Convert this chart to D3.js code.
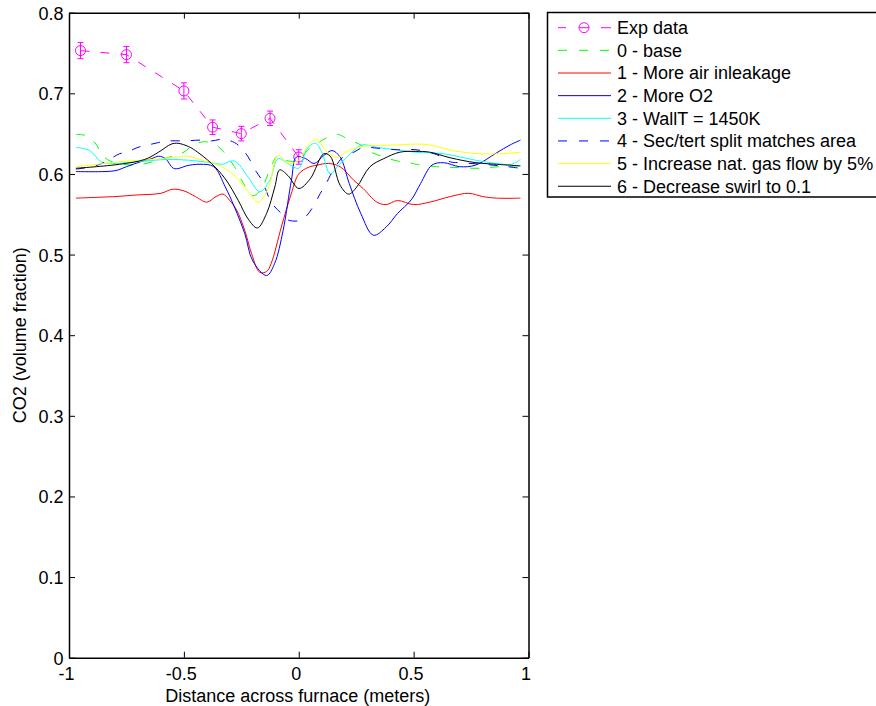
<!DOCTYPE html>
<html>
<head>
<meta charset="utf-8">
<script src="https://cdn.jsdelivr.net/npm/d3@7"></script>
<style>
  body { margin: 0; background: #fff; }
  svg { display: block; font-family: "Liberation Sans", Arial, sans-serif; }
</style>
</head>
<body>
<svg id="chart" width="876" height="706"></svg>
<script>
// experimental points
const expX = [-0.95, -0.75, -0.5, -0.375, -0.25, -0.125, 0];
const expY = [0.753, 0.748, 0.703, 0.658, 0.650, 0.669, 0.621];
const expErr = [0.010, 0.010, 0.010, 0.009, 0.009, 0.009, 0.009];

// simulation profiles [x, CO2]
const base = [[-0.97,0.649],[-0.92,0.647],[-0.88,0.636],[-0.86,0.625],[-0.82,0.616],[-0.71,0.611],[-0.625,0.616],[-0.54,0.623],[-0.5,0.627],[-0.46,0.636],[-0.41,0.640],[-0.36,0.636],[-0.32,0.625],[-0.28,0.609],[-0.24,0.588],[-0.2,0.573],[-0.165,0.580],[-0.126,0.605],[-0.09,0.623],[-0.06,0.617],[0.0,0.617],[0.04,0.630],[0.08,0.638],[0.13,0.646],[0.17,0.649],[0.22,0.642],[0.27,0.636],[0.30,0.629],[0.34,0.624],[0.38,0.620],[0.43,0.616],[0.48,0.614],[0.51,0.612],[0.6,0.609],[0.68,0.608],[0.78,0.607],[0.87,0.609],[0.965,0.610]];
const inleak = [[-0.97,0.570],[-0.8,0.572],[-0.7,0.574],[-0.6,0.576],[-0.55,0.581],[-0.5,0.579],[-0.45,0.572],[-0.4,0.565],[-0.36,0.572],[-0.33,0.575],[-0.3,0.567],[-0.27,0.555],[-0.235,0.530],[-0.205,0.501],[-0.17,0.478],[-0.14,0.479],[-0.12,0.489],[-0.076,0.534],[-0.032,0.576],[0.0,0.600],[0.04,0.608],[0.08,0.611],[0.13,0.613],[0.18,0.609],[0.24,0.592],[0.28,0.582],[0.34,0.565],[0.38,0.562],[0.43,0.567],[0.5,0.562],[0.57,0.565],[0.66,0.572],[0.74,0.576],[0.8,0.572],[0.86,0.570],[0.965,0.570]];
const moreO2 = [[-0.97,0.603],[-0.8,0.604],[-0.75,0.609],[-0.69,0.615],[-0.64,0.619],[-0.61,0.622],[-0.58,0.619],[-0.546,0.607],[-0.52,0.607],[-0.49,0.610],[-0.43,0.612],[-0.37,0.609],[-0.32,0.584],[-0.28,0.559],[-0.235,0.526],[-0.2,0.492],[-0.14,0.474],[-0.105,0.489],[-0.068,0.530],[-0.032,0.592],[-0.01,0.621],[0.03,0.619],[0.066,0.613],[0.11,0.623],[0.145,0.629],[0.18,0.621],[0.22,0.588],[0.27,0.551],[0.325,0.524],[0.38,0.534],[0.43,0.551],[0.49,0.568],[0.53,0.588],[0.58,0.611],[0.63,0.614],[0.70,0.609],[0.77,0.611],[0.86,0.626],[0.92,0.636],[0.965,0.642]];
const wallT = [[-0.97,0.633],[-0.91,0.629],[-0.86,0.615],[-0.81,0.613],[-0.71,0.615],[-0.57,0.618],[-0.48,0.617],[-0.38,0.614],[-0.335,0.612],[-0.28,0.616],[-0.22,0.596],[-0.17,0.578],[-0.126,0.592],[-0.09,0.619],[-0.047,0.613],[0.0,0.607],[0.037,0.632],[0.073,0.638],[0.10,0.627],[0.137,0.600],[0.174,0.611],[0.224,0.625],[0.274,0.636],[0.34,0.633],[0.425,0.630],[0.51,0.627],[0.63,0.625],[0.77,0.617],[0.86,0.613],[0.925,0.612],[0.965,0.618]];
const split = [[-0.97,0.606],[-0.9,0.609],[-0.857,0.613],[-0.83,0.617],[-0.78,0.625],[-0.74,0.628],[-0.70,0.633],[-0.655,0.636],[-0.61,0.639],[-0.57,0.641],[-0.5,0.641],[-0.42,0.642],[-0.38,0.641],[-0.33,0.643],[-0.28,0.639],[-0.25,0.632],[-0.22,0.621],[-0.19,0.605],[-0.16,0.592],[-0.12,0.565],[-0.076,0.551],[-0.047,0.543],[0.0,0.542],[0.03,0.547],[0.066,0.561],[0.094,0.576],[0.116,0.586],[0.137,0.598],[0.174,0.615],[0.2,0.623],[0.24,0.627],[0.28,0.633],[0.34,0.632],[0.43,0.630],[0.51,0.630],[0.6,0.624],[0.66,0.615],[0.7,0.614],[0.8,0.612],[0.88,0.610],[0.965,0.607]];
const gasFlow = [[-0.97,0.609],[-0.78,0.615],[-0.64,0.618],[-0.525,0.621],[-0.48,0.622],[-0.42,0.617],[-0.35,0.611],[-0.28,0.598],[-0.22,0.578],[-0.176,0.565],[-0.133,0.582],[-0.09,0.623],[-0.047,0.613],[0.0,0.617],[0.037,0.634],[0.077,0.643],[0.123,0.627],[0.166,0.621],[0.217,0.629],[0.28,0.634],[0.43,0.636],[0.51,0.637],[0.57,0.636],[0.67,0.629],[0.79,0.625],[0.875,0.625],[0.965,0.627]];
const swirl = [[-0.97,0.607],[-0.78,0.612],[-0.67,0.618],[-0.61,0.627],[-0.555,0.637],[-0.525,0.638],[-0.48,0.634],[-0.45,0.629],[-0.38,0.613],[-0.32,0.594],[-0.263,0.567],[-0.22,0.544],[-0.18,0.533],[-0.14,0.551],[-0.104,0.584],[-0.083,0.605],[-0.047,0.598],[0.0,0.582],[0.05,0.594],[0.109,0.625],[0.137,0.622],[0.18,0.586],[0.217,0.575],[0.253,0.584],[0.31,0.609],[0.37,0.619],[0.44,0.627],[0.51,0.628],[0.57,0.627],[0.66,0.620],[0.77,0.614],[0.86,0.612],[0.965,0.610]];

const xTicks = [-1, -0.5, 0, 0.5, 1];
const yTicks = [0, 0.1, 0.2, 0.3, 0.4, 0.5, 0.6, 0.7, 0.8];
const legendLabels = ['Exp data', '0 - base', '1 - More air inleakage', '2 - More O2',
    '3 - WallT = 1450K', '4 - Sec/tert split matches area',
    '5 - Increase nat. gas flow by 5%', '6 - Decrease swirl to 0.1'];

const series = [
    { data: base, color: '#00ff00', dash: '9,11' },
    { data: inleak, color: '#ff0000', dash: null },
    { data: moreO2, color: '#0000ff', dash: null },
    { data: wallT, color: '#00ffff', dash: null },
    { data: split, color: '#0000ff', dash: '9,11' },
    { data: gasFlow, color: '#ffff00', dash: null },
    { data: swirl, color: '#000000', dash: null }
];

const plot = { left: 69, right: 528.5, top: 12.7, bottom: 657.7 };
const svg = d3.select('#chart');

const x = d3.scaleLinear().domain([-1, 1]).range([plot.left, plot.right]);
const y = d3.scaleLinear().domain([0, 0.8]).range([plot.bottom, plot.top]);

const g = svg.append('g');

// curves
const line = d3.line()
    .x(d => x(d[0]))
    .y(d => y(d[1]))
    .curve(d3.curveCatmullRom.alpha(0.5));

// experimental data: dashed line, circles, error bars
const expPts = expX.map((v, i) => [v, expY[i], expErr[i]]);
g.append('path')
    .attr('d', d3.line().x(d => x(d[0])).y(d => y(d[1]))(expPts))
    .attr('fill', 'none')
    .attr('stroke', '#ff00ff')
    .attr('stroke-width', 1)
    .attr('stroke-dasharray', '9,11');

const eb = g.append('g').attr('stroke', '#ff00ff').attr('fill', 'none').attr('stroke-width', 1);
expPts.forEach(d => {
    const cx = x(d[0]);
    eb.append('line').attr('x1', cx).attr('x2', cx).attr('y1', y(d[1] - d[2])).attr('y2', y(d[1] + d[2]));
    eb.append('line').attr('x1', cx - 3).attr('x2', cx + 3).attr('y1', y(d[1] - d[2])).attr('y2', y(d[1] - d[2]));
    eb.append('line').attr('x1', cx - 3).attr('x2', cx + 3).attr('y1', y(d[1] + d[2])).attr('y2', y(d[1] + d[2]));
    eb.append('circle').attr('cx', cx).attr('cy', y(d[1])).attr('r', 5);
});

series.forEach(s => {
    g.append('path')
        .attr('d', line(s.data))
        .attr('fill', 'none')
        .attr('stroke', s.color)
        .attr('stroke-width', 1)
        .attr('stroke-dasharray', s.dash);
});

// axes box with inward ticks on all sides
const fmt = d => String(d);
const xAxisB = d3.axisBottom(x).tickValues(xTicks).tickSizeInner(-6).tickSizeOuter(0).tickFormat(fmt);
const xAxisT = d3.axisTop(x).tickValues(xTicks).tickSizeInner(-6).tickSizeOuter(0).tickFormat('');
const yAxisL = d3.axisLeft(y).tickValues(yTicks).tickSizeInner(-6).tickSizeOuter(0).tickFormat(fmt);
const yAxisR = d3.axisRight(y).tickValues(yTicks).tickSizeInner(-6).tickSizeOuter(0).tickFormat('');

function styleAxis(sel) {
    sel.select('.domain').attr('stroke', '#000').attr('stroke-width', 1.5);
    sel.selectAll('.tick line').attr('stroke', '#000').attr('stroke-width', 1);
    sel.selectAll('text').attr('fill', '#000').attr('font-size', 18)
        .attr('font-family', '"Liberation Sans", Arial, sans-serif');
}

const axB = svg.append('g').attr('transform', `translate(0,${plot.bottom})`).call(xAxisB).call(styleAxis);
axB.selectAll('text').attr('y', 10).attr('dy', '0.71em').attr('dx', -3);
svg.append('g').attr('transform', `translate(0,${plot.top})`).call(xAxisT).call(styleAxis);
const axL = svg.append('g').attr('transform', `translate(${plot.left},0)`).call(yAxisL).call(styleAxis);
axL.selectAll('text').attr('x', -5.5).attr('dy', '0.36em');
svg.append('g').attr('transform', `translate(${plot.right},0)`).call(yAxisR).call(styleAxis);

// axis titles
svg.append('text')
    .attr('x', (plot.left + plot.right) / 2 - 1)
    .attr('y', 702)
    .attr('text-anchor', 'middle')
    .attr('font-size', 18)
    .text('Distance across furnace (meters)');

svg.append('text')
    .attr('transform', `translate(26,${(plot.top + plot.bottom) / 2}) rotate(-90)`)
    .attr('text-anchor', 'middle')
    .attr('font-size', 18)
    .text('CO2 (volume fraction)');

// legend
const lg = svg.append('g');
lg.append('rect')
    .attr('x', 547.5).attr('y', 12.5)
    .attr('width', 345).attr('height', 184.5)
    .attr('fill', '#fff').attr('stroke', '#000').attr('stroke-width', 1.5);

const rowY = i => 27.7 + i * 22.65;
const legendStyles = [{ color: '#ff00ff', dash: null }].concat(series);

legendLabels.forEach((label, i) => {
    const yy = rowY(i);
    const st = legendStyles[i];
    if (i === 0) {
        lg.append('line').attr('x1', 558).attr('x2', 566).attr('y1', yy).attr('y2', yy)
            .attr('stroke', st.color);
        lg.append('line').attr('x1', 601).attr('x2', 611).attr('y1', yy).attr('y2', yy)
            .attr('stroke', st.color);
        lg.append('circle').attr('cx', 584).attr('cy', yy).attr('r', 5)
            .attr('fill', 'none').attr('stroke', st.color);
        lg.append('line').attr('x1', 579).attr('x2', 589).attr('y1', yy).attr('y2', yy)
            .attr('stroke', st.color);
    } else {
        lg.append('line').attr('x1', 558).attr('x2', 611).attr('y1', yy).attr('y2', yy)
            .attr('stroke', st.color)
            .attr('stroke-width', 1)
            .attr('stroke-dasharray', st.dash ? '9,12' : null);
    }
    lg.append('text')
        .attr('x', 617)
        .attr('y', yy)
        .attr('dy', '0.36em')
        .attr('font-size', 18)
        .text(label);
});
</script>
</body>
</html>
